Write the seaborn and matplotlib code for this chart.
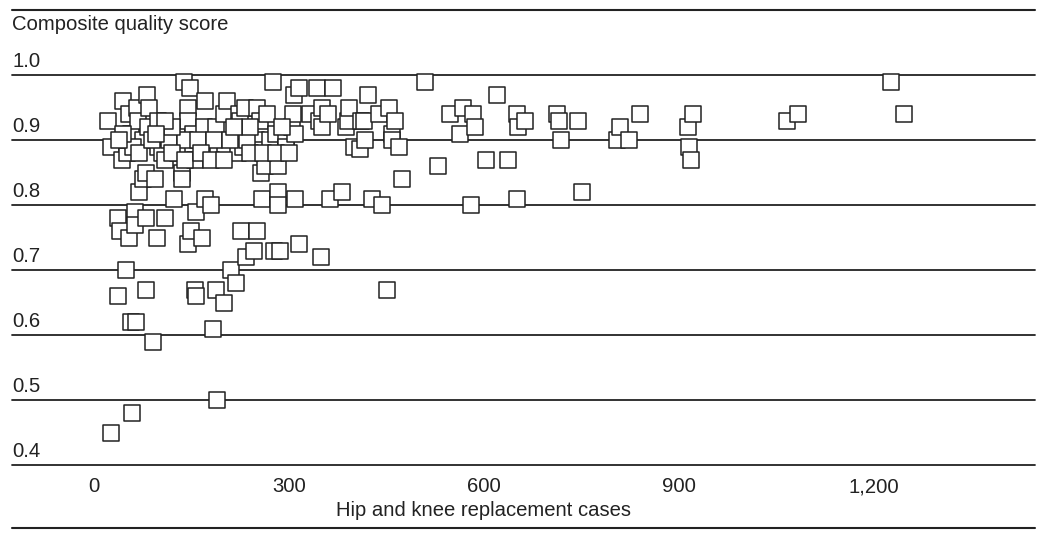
import matplotlib
matplotlib.use("Agg")
import matplotlib.pyplot as plt
from matplotlib.lines import Line2D
import seaborn as sns
import pandas as pd

# hip and knee replacement cases (x) vs composite quality score (y)
cases = [
    22, 26, 26, 37, 37, 40, 43, 45, 50, 51, 51, 54, 54, 57, 57, 58, 63, 63, 65, 66,
    68, 69, 75, 75, 80, 80, 80, 82, 83, 85, 91, 94, 97, 98, 98, 105, 109, 109, 123, 128,
    128, 129, 135, 135, 138, 145, 145, 145, 148, 149, 152, 152, 155, 155, 157, 157, 166, 169, 171, 171,
    175, 180, 183, 188, 188, 189, 191, 200, 200, 202, 205, 211, 217, 218, 222, 223, 225, 226, 229, 232,
    234, 246, 250, 251, 251, 251, 255, 257, 258, 263, 266, 271, 275, 277, 280, 283, 283, 283, 286, 296,
    296, 305, 306, 308, 309, 315, 315, 332, 343, 346, 349, 351, 351, 360, 363, 368, 381, 388, 391, 392,
    400, 409, 411, 415, 417, 421, 428, 438, 444, 451, 454, 458, 458, 463, 469, 474, 509, 529, 548, 563,
    568, 580, 583, 586, 603, 620, 637, 651, 651, 652, 663, 712, 716, 719, 745, 751, 805, 809, 823, 840,
    914, 916, 918, 922, 1066, 1083, 1226, 1246,
    115, 140, 160, 185, 210, 235, 120, 140, 165, 180, 200, 240, 260, 280, 300, 310, 290, 240, 215, 120,
    110, 60, 70, 90, 95, 45, 38,
]
scores = [
    0.93, 0.89, 0.45, 0.78, 0.66, 0.76, 0.87, 0.96, 0.70, 0.88, 0.90, 0.94, 0.75, 0.91, 0.62, 0.48, 0.79, 0.77, 0.62, 0.95,
    0.93, 0.82, 0.84, 0.90, 0.85, 0.78, 0.67, 0.97, 0.92, 0.95, 0.59, 0.84, 0.75, 0.93, 0.89, 0.88, 0.87, 0.78, 0.81, 0.91,
    0.89, 0.88, 0.85, 0.84, 0.99, 0.95, 0.93, 0.74, 0.98, 0.76, 0.91, 0.89, 0.87, 0.67, 0.79, 0.66, 0.75, 0.92, 0.96, 0.81,
    0.89, 0.80, 0.61, 0.92, 0.67, 0.50, 0.88, 0.94, 0.65, 0.89, 0.96, 0.70, 0.91, 0.68, 0.88, 0.94, 0.93, 0.76, 0.89, 0.95,
    0.72, 0.73, 0.90, 0.95, 0.885, 0.76, 0.93, 0.85, 0.81, 0.86, 0.94, 0.90, 0.99, 0.73, 0.91, 0.86, 0.82, 0.80, 0.73, 0.90,
    0.89, 0.92, 0.94, 0.97, 0.81, 0.98, 0.74, 0.94, 0.98, 0.93, 0.72, 0.95, 0.92, 0.94, 0.81, 0.98, 0.82, 0.92, 0.93, 0.95,
    0.89, 0.886, 0.93, 0.93, 0.90, 0.97, 0.81, 0.94, 0.80, 0.67, 0.95, 0.91, 0.90, 0.93, 0.89, 0.84, 0.99, 0.86, 0.94, 0.91,
    0.95, 0.80, 0.94, 0.92, 0.87, 0.97, 0.87, 0.94, 0.81, 0.92, 0.93, 0.94, 0.93, 0.90, 0.93, 0.82, 0.90, 0.92, 0.90, 0.94,
    0.92, 0.89, 0.87, 0.94, 0.93, 0.94, 0.99, 0.94,
    0.90, 0.90, 0.90, 0.90, 0.90, 0.90, 0.88, 0.87, 0.88, 0.87, 0.87, 0.88, 0.88, 0.88, 0.88, 0.91, 0.92, 0.92, 0.92, 0.92,
    0.93, 0.89, 0.88, 0.90, 0.91, 0.91, 0.90,
]
y_ticks = [0.4, 0.5, 0.6, 0.7, 0.8, 0.9, 1.0]
x_ticks = [0, 300, 600, 900, 1200]
x_tick_labels = ["0", "300", "600", "900", "1,200"]

df = pd.DataFrame({"cases": cases, "score": scores})

sns.set_style("white")
plt.rcParams["font.family"] = ["Liberation Sans", "DejaVu Sans"]

W, H = 1050, 542
fig = plt.figure(figsize=(W / 100, H / 100), dpi=100)
left, right = 12 / W, 1035 / W
ax = fig.add_axes([left, 1 - 465 / H, right - left, (465 - 55) / H])

ink = "#222222"
fs = 14.6
for v in y_ticks:
    ax.axhline(v, color=ink, lw=1.3, zorder=1, clip_on=False)

sns.scatterplot(data=df, x="cases", y="score", marker="s", s=140, color="white",
                edgecolor=ink, linewidth=1.1, ax=ax, zorder=3, legend=False)

ax.set_xlim(-126, 1448)
ax.set_ylim(0.4, 1.0308)
for s in ax.spines.values():
    s.set_visible(False)
ax.set_yticks([])
ax.set_xticks(x_ticks)
ax.set_xticklabels(x_tick_labels, fontsize=fs, color=ink)
ax.tick_params(axis="x", length=0, pad=9)
ax.set_xlabel("")
ax.set_ylabel("")

# y tick labels sit above their lines
for v in y_ticks:
    ax.text(0.0, v + 0.006, f"{v:.1f}", transform=ax.get_yaxis_transform(),
            ha="left", va="bottom", fontsize=fs, color=ink)

fig.text(left, 1 - 25 / H, "Composite quality score", ha="left", va="center",
         fontsize=fs, color=ink)
fig.text((94 + 874) / 2 / W, 1 - 510 / H, "Hip and knee replacement cases",
         ha="center", va="center", fontsize=fs, color=ink)

for py in (10, 528):
    fig.add_artist(Line2D([left, right], [1 - py / H, 1 - py / H], color=ink, lw=1.5))

fig.savefig("out.png", dpi=100)
